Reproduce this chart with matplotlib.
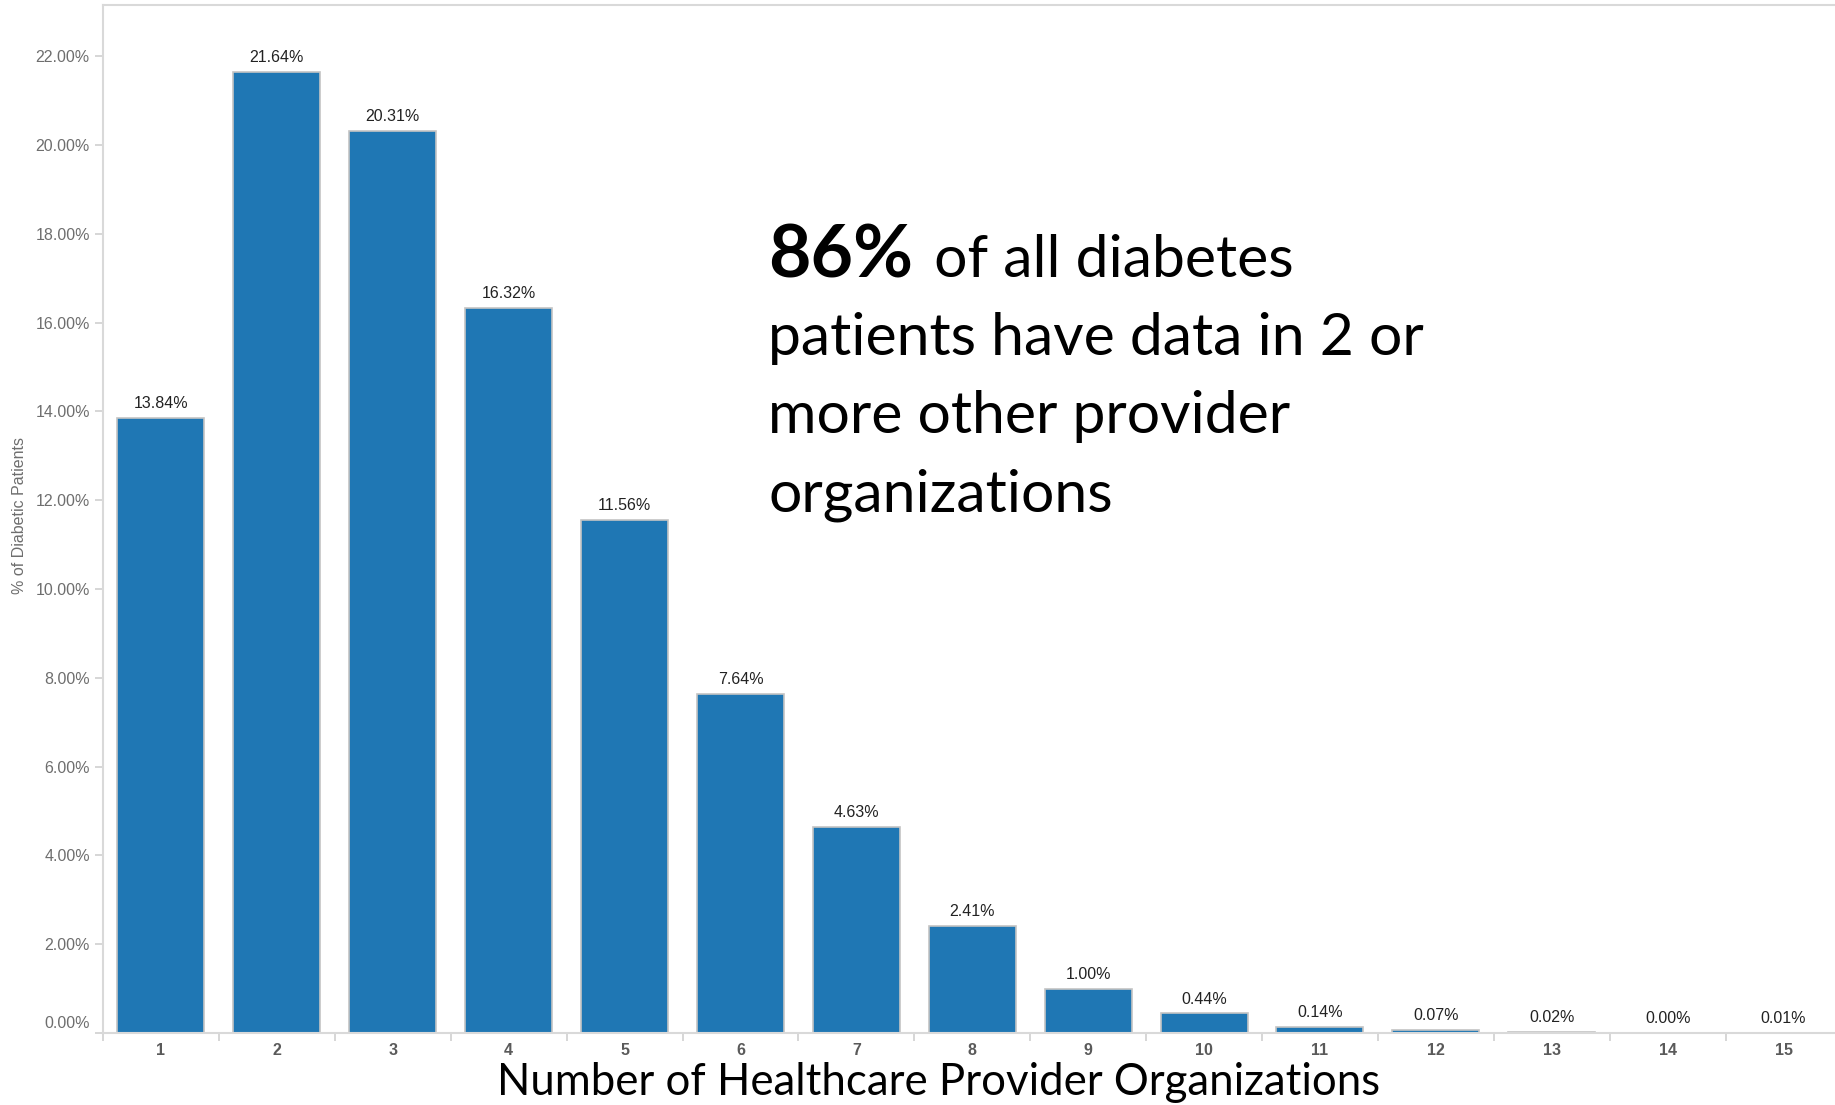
import matplotlib
matplotlib.use('Agg')
import matplotlib.pyplot as plt
import matplotlib.transforms as mtransforms
import numpy as np

# canvas size in pixels (dpi 100)
W, H = 1835, 1105

# data
org_counts = list(range(1, 16))
pct_patients = [13.84, 21.64, 20.31, 16.32, 11.56, 7.64, 4.63, 2.41,
                1.00, 0.44, 0.14, 0.07, 0.02, 0.00, 0.01]
y_ticks = [0, 2, 4, 6, 8, 10, 12, 14, 16, 18, 20, 22]
y_tick_labels = [f'{t:.2f}%' for t in y_ticks]

callout_big = '86%'
callout_lines = [' of all diabetes',
                 'patients have data in 2 or',
                 'more other provider',
                 'organizations']
x_title = 'Number of Healthcare Provider Organizations'
y_title = '% of Diabetic Patients'


def px(x, y):
    """pixel position (from top-left) -> figure fraction"""
    return x / W, 1 - y / H


def fit_width(txt, target_px, renderer):
    w = txt.get_window_extent(renderer).width
    txt.set_fontsize(txt.get_fontsize() * target_px / w)


fig = plt.figure(figsize=(W / 100, H / 100), dpi=100)
fig.patch.set_facecolor('white')

# plot area (right edge runs slightly past the image, like the original)
left, right, top, bottom = 103, 1841.5, 5, 1033
ax = fig.add_axes([left / W, 1 - bottom / H, (right - left) / W, (bottom - top) / H])
ax.set_xlim(0.5, 15.5)
ax.set_ylim(0, 23.15)

bars = ax.bar(org_counts, pct_patients, width=0.75, color='#1f77b4',
              edgecolor='#c4c4c4', linewidth=1.2, zorder=2)

# value labels above bars
for x, v in zip(org_counts, pct_patients):
    ax.annotate(f'{v:.2f}%', (x, v), xytext=(0, 5), textcoords='offset points',
                ha='center', va='bottom', fontsize=11.5, color='#222222',
                family='Liberation Sans')

# spines
for side in ['top', 'left', 'bottom']:
    ax.spines[side].set_color('#d9d9d9')
    ax.spines[side].set_linewidth(1.5)
ax.spines['right'].set_visible(False)

# y axis
ax.set_yticks(y_ticks)
ax.set_yticklabels(y_tick_labels, family='Liberation Sans')
ax.tick_params(axis='y', length=6, width=1.2, color='#d0d0d0', pad=3.5,
               labelsize=11.5, labelcolor='#6e6e6e')
# lift the 0.00% label like Tableau does
zero_lab = ax.get_yticklabels()[0]
zero_lab.set_transform(zero_lab.get_transform() +
                       mtransforms.ScaledTranslation(0, 0.11, fig.dpi_scale_trans))

# x axis: labels centred, ticks on the category boundaries
ax.set_xticks(org_counts)
ax.set_xticklabels([str(c) for c in org_counts], family='Liberation Sans',
                   fontweight='bold')
ax.tick_params(axis='x', which='major', length=0, pad=7, labelsize=11.5,
               labelcolor='#5a5a5a')
ax.set_xticks(np.arange(0.5, 16, 1), minor=True)
ax.tick_params(axis='x', which='minor', length=6, width=1.2, color='#d0d0d0')

fig.text(*px(19, 515), y_title, rotation=90, ha='center', va='center',
         fontsize=11.5, color='#6e6e6e', family='Liberation Sans')

renderer = fig.canvas.get_renderer()

# x title
xt = fig.text(*px(939, 1095), x_title, ha='center', va='baseline',
              fontsize=33, family='Lato', color='black')
fit_width(xt, 884, renderer)

# call-out text
big = fig.text(*px(768, 277), callout_big, ha='left', va='baseline',
               fontsize=55, fontweight='bold', family='Lato', color='black')
fit_width(big, 145, renderer)

probe = fig.text(0, 0, callout_lines[1], fontsize=42, family='Lato')
fit_width(probe, 656, renderer)
body_size = probe.get_fontsize()
probe.remove()

baselines = [277, 355, 433, 511]
fig.text(*px(919, baselines[0]), callout_lines[0], ha='left', va='baseline',
         fontsize=body_size, family='Lato', color='black')
for line, yb in zip(callout_lines[1:], baselines[1:]):
    fig.text(*px(768, yb), line, ha='left', va='baseline',
             fontsize=body_size, family='Lato', color='black')

fig.savefig('out.png', dpi=100)
